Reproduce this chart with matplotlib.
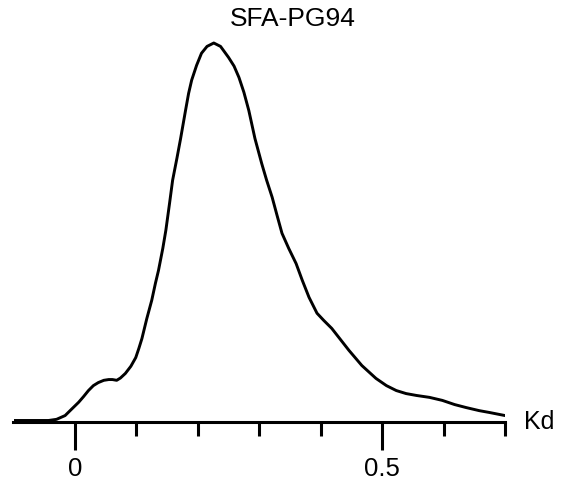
import matplotlib
matplotlib.use("Agg")
import matplotlib.pyplot as plt
from matplotlib.ticker import FixedLocator

plt.rcParams['font.family'] = ['Liberation Sans', 'DejaVu Sans']

# distribution curve (relative height, peak = 1)
kd = [-0.100, -0.060, -0.043, -0.030, -0.016, -0.006, 0.006, 0.014, 0.022, 0.030,
      0.038, 0.047, 0.055, 0.061, 0.068, 0.074, 0.082, 0.091, 0.099, 0.104,
      0.109, 0.117, 0.125, 0.131, 0.136, 0.143, 0.148, 0.154, 0.159, 0.166,
      0.172, 0.180, 0.185, 0.190, 0.198, 0.206, 0.215, 0.226, 0.237, 0.250,
      0.259, 0.267, 0.275, 0.283, 0.293, 0.304, 0.312, 0.321, 0.329, 0.337,
      0.348, 0.360, 0.370, 0.381, 0.394, 0.405, 0.418, 0.432, 0.446, 0.467,
      0.490, 0.507, 0.523, 0.539, 0.556, 0.577, 0.598, 0.618, 0.637, 0.658,
      0.675, 0.700]
density = [0.004, 0.004, 0.004, 0.007, 0.017, 0.033, 0.052, 0.067, 0.083, 0.096,
           0.104, 0.110, 0.112, 0.112, 0.110, 0.116, 0.128, 0.147, 0.170, 0.194,
           0.220, 0.273, 0.321, 0.366, 0.400, 0.458, 0.506, 0.577, 0.638, 0.696,
           0.748, 0.822, 0.867, 0.902, 0.941, 0.973, 0.991, 1.000, 0.991, 0.962,
           0.939, 0.909, 0.870, 0.822, 0.748, 0.682, 0.638, 0.593, 0.545, 0.498,
           0.458, 0.418, 0.374, 0.329, 0.287, 0.268, 0.247, 0.218, 0.189, 0.149,
           0.115, 0.096, 0.083, 0.075, 0.070, 0.065, 0.057, 0.046, 0.038, 0.030,
           0.025, 0.017]

title = "SFA-PG94"
major_ticks = [0, 0.5]
major_labels = ["0", "0.5"]
minor_ticks = [0.1, 0.2, 0.3, 0.4, 0.6, 0.7]

fig = plt.figure(figsize=(5.72, 4.88), dpi=100)
ax = fig.add_axes([13.5 / 572, 1 - 422 / 488, (505 - 13.5) / 572, 392 / 488])

ax.plot(kd, density, color='black', lw=2.1, solid_capstyle='round', solid_joinstyle='round')

ax.set_xlim(-0.1, 0.7)
ax.set_ylim(0, 392 / 379)

for s in ['left', 'top', 'right']:
    ax.spines[s].set_visible(False)
ax.spines['bottom'].set_linewidth(2.2)
ax.spines['bottom'].set_capstyle('projecting')

ax.set_yticks([])
ax.set_xticks(major_ticks)
ax.set_xticklabels(major_labels)
ax.xaxis.set_minor_locator(FixedLocator(minor_ticks))
ax.tick_params(axis='x', which='major', length=20, width=2.2, pad=5, labelsize=18.5)
ax.tick_params(axis='x', which='minor', length=10, width=2.2)

ax.annotate("Kd", xy=(1, 0), xycoords='axes fraction', xytext=(14, 0),
            textcoords='offset points', ha='left', va='center', fontsize=18)

fig.text(292.5 / 572, 1 - 19 / 488, title, ha='center', va='center', fontsize=19)

fig.savefig("out.png", dpi=100)
